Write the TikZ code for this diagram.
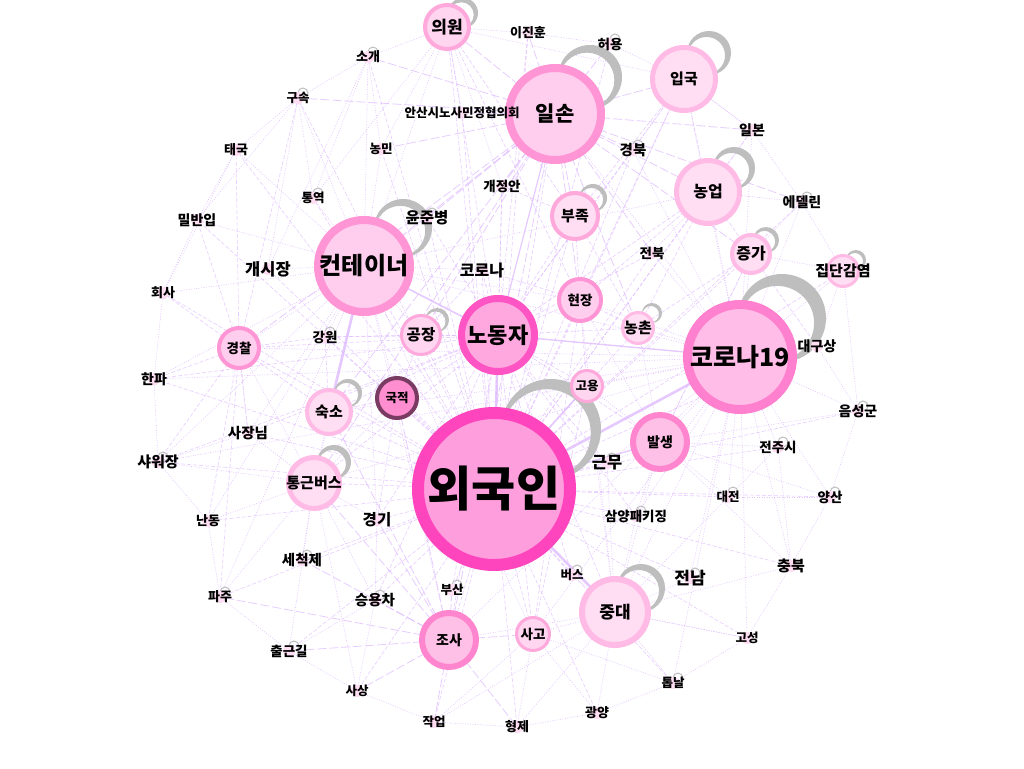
\documentclass[tikz,border=0pt]{standalone}
\usepackage{fontspec}
\newfontfamily\kr{Noto Sans CJK KR}
\definecolor{edgec}{HTML}{E0BCFF}
\definecolor{loopc}{HTML}{BEBEBE}
\definecolor{dotc}{HTML}{FFDDF2}
\definecolor{wF}{HTML}{FF9EDC}\definecolor{wR}{HTML}{FF45BD}
\definecolor{kF}{HTML}{FFBDE8}\definecolor{kR}{HTML}{FF80CE}
\definecolor{pF}{HTML}{FFCDEE}\definecolor{pR}{HTML}{FF95D4}
\definecolor{nF}{HTML}{FFA8E0}\definecolor{nR}{HTML}{FF55C4}
\definecolor{lF}{HTML}{FFDDF2}\definecolor{lR}{HTML}{FFBBE6}
\definecolor{mF}{HTML}{FFC0E7}\definecolor{mR}{HTML}{FF86CE}
\definecolor{sF}{HTML}{FFD5F0}\definecolor{sR}{HTML}{FFA8DC}
\definecolor{gF}{HTML}{FF8ED0}\definecolor{gR}{HTML}{7A3B63}
\pgfdeclarelayer{back}
\pgfdeclarelayer{edges}
\pgfdeclarelayer{loops}
\pgfsetlayers{back,edges,loops,main}
\tikzset{
  f/.style={font=\kr\bfseries\fontsize{#1}{#1}\selectfont, text=black, inner sep=0pt},
  bn/.style 2 args={circle, inner sep=0pt, outer sep=0pt, fill=#1, draw=#2},
  dot/.style={circle, inner sep=0pt, outer sep=0pt, minimum size=12, fill=dotc},
  ed/.style={draw=edgec, line width=0.6pt, dash pattern=on 4pt off 2pt, opacity=0.75},
  eo/.style={draw=edgec, line width=0.6pt, dash pattern=on 1pt off 1.5pt, opacity=0.85},
  el/.style={draw=edgec, line width=0.8pt, dash pattern=on 9pt off 3pt, opacity=0.75},
  et/.style={draw=edgec, line width=2.6pt, opacity=0.8},
  lp/.style={fill=loopc, even odd rule}
}
\newcommand\mysn[5]{\node[dot, label={[f=#5]center:#4}] (#1) at (#2,#3) {};}
% crescent loop: cx cy R w  (thick side away from lower-left)
\newcommand\myloop[4]{\fill[lp] (#1,#2) circle (#3) ({#1-0.35*#4},{#2+0.35*#4}) circle ({#3-0.5*#4});}
\begin{document}
\begin{tikzpicture}[x=1pt,y=-1pt]
\useasboundingbox (0,0) rectangle (1024,768);
\begin{pgfonlayer}{back}
\fill[white] (0,0) rectangle (1024,768);
\end{pgfonlayer}

% ---- big nodes
\node[bn={wF}{wR}, minimum size=152, line width=12, label={[f=48]center:외국인}] (W) at (494,489) {};
\node[bn={kF}{kR}, minimum size=105, line width=9, label={[f=25]center:코로나19}] (K19) at (740,357) {};
\node[bn={pF}{pR}, minimum size=92, line width=8, label={[f=21]center:일손}] (IS) at (555,114) {};
\node[bn={pF}{pR}, minimum size=92, line width=8, label={[f=24]center:컨테이너}] (CT) at (364,266) {};
\node[bn={nF}{nR}, minimum size=73, line width=7, label={[f=22]center:노동자}] (ND) at (498,335) {};
\node[bn={lF}{lR}, minimum size=66, line width=6, label={[f=17]center:중대}] (JD) at (615,612) {};
\node[bn={lF}{lR}, minimum size=63, line width=5, label={[f=15]center:입국}] (IG) at (684,79) {};
\node[bn={lF}{lR}, minimum size=63, line width=5, label={[f=16]center:농업}] (NU) at (708,192) {};
\node[bn={lF}{lR}, minimum size=51, line width=5, label={[f=15]center:통근버스}] (TB) at (314,483) {};
\node[bn={mF}{mR}, minimum size=54, line width=6, label={[f=14]center:조사}] (JS) at (449,640) {};
\node[bn={mF}{mR}, minimum size=54, line width=6, label={[f=14]center:발생}] (BS) at (660,442) {};
\node[bn={sF}{sR}, minimum size=44, line width=4, label={[f=17]center:의원}] (UW) at (447,27) {};
\node[bn={lF}{sR}, minimum size=46, line width=4, label={[f=15]center:부족}] (BJ) at (575,216) {};
\node[bn={lF}{lR}, minimum size=44, line width=4, label={[f=15]center:숙소}] (SS) at (329,412) {};
\node[bn={pF}{pR}, minimum size=42, line width=4, label={[f=13.5]center:현장}] (HJ) at (580,300) {};
\node[bn={lF}{lR}, minimum size=38, line width=4, label={[f=16]center:증가}] (JG) at (751,254) {};
\node[bn={pF}{pR}, minimum size=40, line width=4, label={[f=13.5]center:경찰}] (GC) at (239,348) {};
\node[bn={sF}{sR}, minimum size=39, line width=3, label={[f=15.5]center:공장}] (GJ) at (421,335) {};
\node[bn={sF}{sR}, minimum size=33, line width=3, label={[f=13.5]center:사고}] (SG) at (533,634) {};
\node[bn={lF}{lR}, minimum size=31, line width=3, label={[f=15]center:집단감염}] (JDG) at (843,271) {};
\node[bn={gF}{gR}, minimum size=40, line width=4, label={[f=12.5]center:국적}] (GJK) at (397,398) {};
\node[bn={lF}{lR}, minimum size=31, line width=3, label={[f=15]center:농촌}] (NC) at (638,328) {};
\node[bn={sF}{sR}, minimum size=31, line width=3, label={[f=12.5]center:고용}] (GY) at (587,386) {};

% ---- small nodes
\mysn{ljh}{528}{33}{이진훈}{13}
\mysn{hy}{610}{44}{허용}{13.5}
\mysn{sgae}{368}{57}{소개}{13}
\mysn{gsok}{298}{98}{구속}{12.5}
\mysn{ans}{462}{113}{안산시노사민정협의회}{12.5}
\mysn{tgk}{236}{150}{태국}{13}
\mysn{nmin}{381}{149}{농민}{12.5}
\mysn{gbuk}{633}{150}{경북}{14.5}
\mysn{ilb}{752}{130}{일본}{14}
\mysn{gja}{502}{186}{개정안}{13.5}
\mysn{tyk}{313}{198}{통역}{12.5}
\mysn{mbi}{197}{220}{밀반입}{14}
\mysn{edl}{802}{202}{에델린}{14}
\mysn{yjb}{427}{218}{윤준병}{15.5}
\mysn{gsj}{268}{269}{개시장}{16.5}
\mysn{cor}{482}{270}{코로나}{16}
\mysn{jbuk}{652}{253}{전북}{13.5}
\mysn{hsa}{163}{293}{회사}{13}
\mysn{gwon}{325}{337}{강원}{13.5}
\mysn{dgs}{817}{346}{대구상}{14}
\mysn{hpa}{154}{379}{한파}{14}
\mysn{esg}{858}{411}{음성군}{14}
\mysn{sjn}{248}{433}{사장님}{14.5}
\mysn{sws}{158}{462}{샤워장}{15}
\mysn{jjs}{778}{447}{전주시}{13.5}
\mysn{gmu}{607}{463}{근무}{16.5}
\mysn{djn}{728}{497}{대전}{12.5}
\mysn{ysn}{830}{497}{양산}{13.5}
\mysn{syp}{636}{516}{삼양패키징}{13.5}
\mysn{ndong}{208}{521}{난동}{13}
\mysn{ggi}{377}{520}{경기}{15.5}
\mysn{scj}{302}{560}{세척제}{14.5}
\mysn{bus}{572}{575}{버스}{12.5}
\mysn{jnam}{690}{578}{전남}{17}
\mysn{cbuk}{791}{566}{충북}{15}
\mysn{pju}{220}{597}{파주}{13}
\mysn{bsan}{452}{590}{부산}{12.5}
\mysn{syc}{375}{600}{승용차}{14.5}
\mysn{gsng}{747}{638}{고성}{12.5}
\mysn{cgg}{289}{651}{출근길}{13.5}
\mysn{tnal}{673}{683}{톱날}{12.5}
\mysn{ssang}{357}{691}{사상}{12.5}
\mysn{gyang}{597}{713}{광양}{13}
\mysn{jeob}{434}{722}{작업}{12.5}
\mysn{hje}{517}{727}{형제}{13}

% ---- self loops
\begin{pgfonlayer}{loops}
\myloop{551}{429}{50}{12}
\myloop{782}{318}{44}{14}
\myloop{590}{77}{32}{9}
\myloop{709}{53}{22}{7}
\myloop{463}{13}{15}{5}
\myloop{734}{168}{21}{7}
\myloop{766}{240}{13}{4.5}
\myloop{856}{260}{10}{3.5}
\myloop{403}{228}{29}{8}
\myloop{593}{198}{14}{4.5}
\myloop{437}{320}{12}{4}
\myloop{652}{313}{10}{3.5}
\myloop{348}{393}{14}{4.5}
\myloop{334}{462}{17}{6}
\myloop{641}{588}{24}{7}
\foreach \n in {hy,sgae,gsok,gwon,gmu,syp,bus,bsan,syc,scj,pju,cgg,tnal,jjs,djn,ysn,esg,edl,jnam,sws,tyk,yjb,gbuk}
  \draw[draw=loopc, line width=1] ([shift={(5,-5)}]\n.center) circle (5);
\end{pgfonlayer}

% ---- edges
\begin{pgfonlayer}{edges}
\foreach \t in {K19,ND,JD} \draw[et] (W) -- (\t);
\draw[et] (CT) -- (SS);
\draw[et, line width=1.6pt] (CT) -- (ND);
\draw[et, line width=1.6pt] (W) -- (GY);
\draw[et, line width=1.4pt] (W) -- (BS);
\draw[et, line width=1.4pt] (ND) -- (K19);
\draw[et, line width=1.2pt] (IS) -- (ND);
\foreach \t in {IS,CT,IG,NU,TB,JS,UW,BJ,SS,HJ,JG,GC,GJ,SG,JDG,GJK,NC,
  ljh,hy,sgae,gsok,ans,tgk,nmin,gbuk,ilb,gja,tyk,mbi,edl,yjb,gsj,cor,jbuk,hsa,gwon,dgs,hpa,esg,sjn,sws,jjs,gmu,djn,ysn,syp,ndong,ggi,scj,bus,jnam,cbuk,pju,bsan,syc,gsng,cgg,tnal,ssang,gyang,jeob,hje}
  \draw[ed] (W) -- (\t);
\foreach \t in {IS,CT,JD,IG,NU,BS,JG,JDG,HJ,NC,GY,dgs,esg,jjs,djn,ysn,cbuk,gsng,edl,ilb,gbuk,jbuk,jnam,syp,gmu,tnal,hpa,sws,TB,SS,GC,JS,SG}
  \draw[eo] (K19) -- (\t);
\foreach \t in {UW,IG,NU,BJ,CT,ljh,hy,ans,gja,gbuk,ilb,nmin,sgae,gsok,yjb,HJ,NC,JG,jbuk,edl,TB,GC,SS,JS,GJ}
  \draw[el] (IS) -- (\t);
\foreach \t in {GJ,GJK,TB,GC,gsj,tyk,mbi,gsok,tgk,hsa,gwon,yjb,cor,nmin,sgae,sjn,sws,hpa,ggi,ndong,JS,SG,pju,UW,NU,HJ}
  \draw[eo] (CT) -- (\t);
\foreach \t in {GJ,HJ,GY,BJ,NC,JS,SG,JD,BS,GJK,SS,TB,cor,gja,yjb,UW,IG,NU,ljh,gbuk,jbuk,gmu,syp,bus,bsan,syc,ggi,sjn,gwon,hpa,sws,GC}
  \draw[ed] (ND) -- (\t);
\foreach \t in {SG,JS,BS,bus,jnam,tnal,gyang,hje,gsng,cbuk,djn,syp,gmu,jeob,GY,HJ}
  \draw[eo] (JD) -- (\t);
\foreach \t in {SG,jeob,ssang,cgg,syc,bsan,hje,pju,scj,ggi,TB,GJK,SS}
  \draw[el] (JS) -- (\t);
\foreach \t in {SS,GC,scj,cgg,pju,ndong,sjn,sws,ggi,syc,ssang,GJK}
  \draw[eo] (TB) -- (\t);
\foreach \t in {hpa,sws,hsa,mbi,tgk,gsok,sjn,ndong,pju,SS,gwon}
  \draw[ed] (GC) -- (\t);
\foreach \t in {jjs,djn,ysn,esg,cbuk,gmu,syp,JG,GY,HJ,NC}
  \draw[eo] (BS) -- (\t);
\foreach \a/\b in {NU/JG,NU/HJ,NU/NC,BJ/HJ,HJ/NC,HJ/GY,GJ/GJK,GJK/SS,JG/NC,JG/BS,dgs/JG,cor/HJ,cor/GJ,gja/BJ,IG/HJ,IG/BJ,UW/BJ,UW/HJ,gwon/GJ,gwon/SS,ggi/GJK,SG/GY,SG/HJ,BJ/NC,IG/NU}
  \draw[ed] (\a) -- (\b);
\foreach \a/\b in {tgk/gsok,gsok/sgae,sgae/nmin,mbi/hsa,hsa/hpa,hpa/sws,sws/ndong,ndong/pju,pju/cgg,cgg/ssang,ssang/jeob,jeob/hje,hje/gyang,gyang/tnal,tnal/gsng,gsng/cbuk,cbuk/ysn,ysn/esg,esg/dgs,dgs/JDG,JDG/edl,edl/ilb,ilb/IG,IG/hy,hy/ljh,ljh/UW,UW/sgae,UW/ans,UW/IG,UW/nmin,UW/tyk,UW/gja,
  gsok/mbi,gsok/tyk,gsok/gsj,tgk/mbi,tgk/hsa,sgae/tyk,sgae/gsj,NU/ilb,NU/edl,NU/jbuk,JG/edl,JG/JDG,JDG/esg,IG/gbuk,IG/ilb,sws/sjn,sjn/GC,ggi/syc,syc/cgg,syc/ssang,jeob/SG,hje/SG,gyang/SG,cbuk/jjs,djn/jjs,djn/ysn,gsng/JD,tnal/SG}
  \draw[eo] (\a) -- (\b);
\end{pgfonlayer}
\end{tikzpicture}
\end{document}
